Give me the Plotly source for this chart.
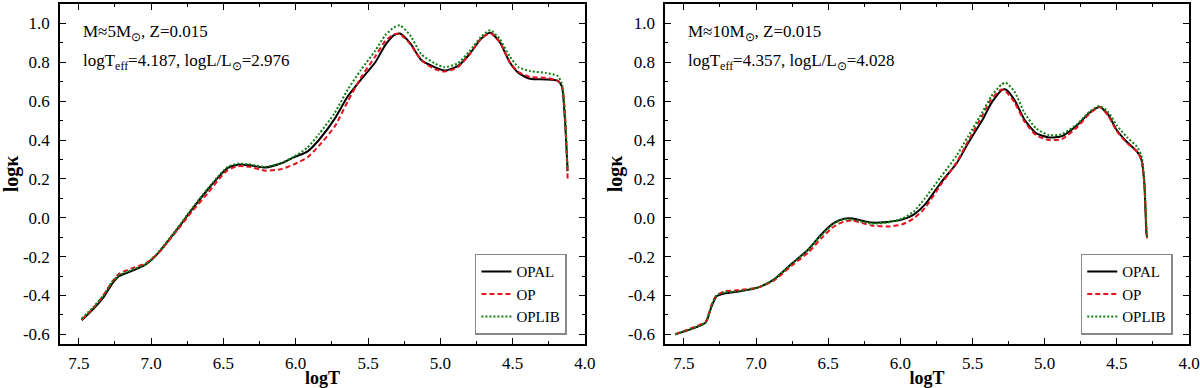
import plotly.graph_objects as go

# left panel: M~5 Msun
logT_5 = [7.48, 7.40, 7.33, 7.27, 7.22, 7.14, 7.04, 6.96, 6.82, 6.72, 6.61, 6.53, 6.47, 6.40, 6.32,
          6.21, 6.10, 6.01, 5.92, 5.84, 5.73, 5.64, 5.55, 5.45, 5.38, 5.32, 5.28, 5.21, 5.13, 5.04,
          4.97, 4.88, 4.80, 4.72, 4.655, 4.59, 4.52, 4.46, 4.38, 4.27, 4.19, 4.16, 4.14, 4.12]
opal_5 = [-0.528, -0.47, -0.41, -0.34, -0.30, -0.276, -0.242, -0.19, -0.06, 0.04, 0.144, 0.213, 0.256, 0.273, 0.270,
          0.258, 0.28, 0.312, 0.34, 0.40, 0.51, 0.625, 0.71, 0.80, 0.89, 0.94, 0.948, 0.90, 0.81, 0.775,
          0.758, 0.78, 0.84, 0.92, 0.952, 0.905, 0.80, 0.745, 0.715, 0.712, 0.705, 0.676, 0.52, 0.24]
op_5 = [-0.525, -0.465, -0.40, -0.33, -0.288, -0.262, -0.235, -0.19, -0.065, 0.03, 0.125, 0.20, 0.245, 0.265, 0.262,
        0.242, 0.25, 0.275, 0.31, 0.37, 0.47, 0.60, 0.72, 0.83, 0.91, 0.945, 0.945, 0.895, 0.81, 0.765,
        0.752, 0.775, 0.84, 0.92, 0.95, 0.905, 0.80, 0.75, 0.725, 0.72, 0.705, 0.68, 0.55, 0.20]
oplib_5 = [-0.52, -0.46, -0.40, -0.33, -0.295, -0.27, -0.24, -0.185, -0.055, 0.045, 0.148, 0.218, 0.262, 0.278, 0.275,
           0.262, 0.282, 0.315, 0.36, 0.43, 0.54, 0.66, 0.76, 0.86, 0.94, 0.98, 0.99, 0.94, 0.84, 0.795,
           0.775, 0.795, 0.855, 0.93, 0.965, 0.92, 0.83, 0.775, 0.755, 0.745, 0.73, 0.69, 0.55, 0.25]

# right panel: M~10 Msun
logT_10 = [7.56, 7.46, 7.35, 7.31, 7.275, 7.22, 7.12, 6.99, 6.88, 6.75, 6.64, 6.54, 6.46, 6.39, 6.33,
           6.20, 6.09, 5.99, 5.91, 5.83, 5.72, 5.61, 5.53, 5.43, 5.37, 5.30, 5.27, 5.21, 5.14, 5.06,
           4.97, 4.88, 4.77, 4.69, 4.62, 4.56, 4.50, 4.43, 4.36, 4.33, 4.31, 4.295, 4.29]
opal_10 = [-0.60, -0.576, -0.54, -0.46, -0.405, -0.39, -0.38, -0.36, -0.32, -0.235, -0.165, -0.08, -0.027, -0.005, -0.004,
           -0.025, -0.022, -0.01, 0.015, 0.067, 0.18, 0.28, 0.385, 0.505, 0.59, 0.655, 0.66, 0.607, 0.505, 0.435,
           0.413, 0.42, 0.48, 0.54, 0.57, 0.53, 0.45, 0.39, 0.34, 0.30, 0.18, -0.08, -0.105]
op_10 = [-0.60, -0.572, -0.535, -0.45, -0.40, -0.38, -0.372, -0.36, -0.325, -0.245, -0.18, -0.10, -0.045, -0.02, -0.015,
         -0.04, -0.045, -0.035, -0.005, 0.05, 0.17, 0.285, 0.395, 0.53, 0.61, 0.66, 0.65, 0.595, 0.495, 0.425,
         0.40, 0.405, 0.47, 0.535, 0.57, 0.525, 0.445, 0.385, 0.34, 0.30, 0.18, -0.06, -0.11]
oplib_10 = [-0.60, -0.574, -0.54, -0.455, -0.40, -0.385, -0.378, -0.36, -0.32, -0.235, -0.165, -0.085, -0.03, -0.008, -0.01,
            -0.03, -0.025, -0.005, 0.03, 0.10, 0.21, 0.32, 0.42, 0.545, 0.625, 0.685, 0.695, 0.65, 0.54, 0.46,
            0.425, 0.43, 0.485, 0.545, 0.575, 0.545, 0.475, 0.415, 0.365, 0.32, 0.20, -0.05, -0.10]

names = ["OPAL", "OP", "OPLIB"]
y_ticks = [-0.6, -0.4, -0.2, 0.0, 0.2, 0.4, 0.6, 0.8, 1.0]
y_labels = ["-0.6", "-0.4", "-0.2", "0.0", "0.2", "0.4", "0.6", "0.8", "1.0"]
x_ticks = [7.5, 7.0, 6.5, 6.0, 5.5, 5.0, 4.5, 4.0]
x_labels = ["7.5", "7.0", "6.5", "6.0", "5.5", "5.0", "4.5", "4.0"]

styles = [dict(color="black", width=2, dash="solid"),
          dict(color="#e8101e", width=2, dash="5px,3px"),
          dict(color="#108010", width=2, dash="2px,2px")]

FONT = "Liberation Serif"

fig = go.Figure()
panels = [(logT_5, [opal_5, op_5, oplib_5], "x", "y", "legend"),
          (logT_10, [opal_10, op_10, oplib_10], "x2", "y2", "legend2")]
for xs, series, xa, ya, leg in panels:
    for name, ys, st in zip(names, series, styles):
        fig.add_trace(go.Scatter(x=xs, y=ys, mode="lines", name=name, line=dict(**st, shape="spline", smoothing=0.6),
                                 xaxis=xa, yaxis=ya, legend=leg))

axis_common = dict(showline=True, linecolor="black", linewidth=1.5, mirror="allticks", ticks="inside",
                   ticklen=6, tickwidth=1.2, tickcolor="black", showgrid=False, zeroline=False, automargin=False,
                   tickfont=dict(family=FONT, size=17, color="black"))

xa = dict(axis_common, range=[7.63, 4.0], tickvals=x_ticks, ticktext=x_labels, ticklabelstandoff=3,
          minor=dict(dtick=0.25, tick0=4.0, ticks="inside", ticklen=3, tickcolor="black"),
          title=dict(text="<b>logT</b>", font=dict(family=FONT, size=18, color="black"), standoff=0))
ya = dict(axis_common, range=[-0.65, 1.1], tickvals=y_ticks, ticktext=y_labels, ticklabelstandoff=5,
          minor=dict(dtick=0.1, tick0=0, ticks="inside", ticklen=3, tickcolor="black"),
          title=dict(text="<b>logκ</b>", font=dict(family=FONT, size=20, color="black"), standoff=0))

leg_common = dict(xanchor="right", yanchor="bottom", bordercolor="#888888", borderwidth=1.5,
                  font=dict(family=FONT, size=15, color="black"), bgcolor="white", tracegroupgap=0)

fig.update_layout(
    width=1200, height=388,
    margin=dict(l=60, r=11, t=4, b=44),
    plot_bgcolor="white", paper_bgcolor="white",
    xaxis=dict(xa, domain=[0, 0.465], anchor="y"),
    yaxis=dict(ya, domain=[0, 1], anchor="x"),
    xaxis2=dict(xa, domain=[0.536, 1.0], anchor="y2"),
    yaxis2=dict(ya, domain=[0, 1], anchor="x2"),
    legend=dict(leg_common, x=0.449, y=0.027),
    legend2=dict(leg_common, x=0.9856, y=0.027),
)

ann_font = dict(family=FONT, size=17, color="black")
notes = [("x domain", "y domain", "M≈5M<sub>⊙</sub>, Z=0.015", "logT<sub>eff</sub>=4.187, logL/L<sub>⊙</sub>=2.976"),
         ("x2 domain", "y2 domain", "M≈10M<sub>⊙</sub>, Z=0.015", "logT<sub>eff</sub>=4.357, logL/L<sub>⊙</sub>=4.028")]
for xr, yr, l1, l2 in notes:
    fig.add_annotation(xref=xr, yref=yr, x=0.04, y=0.915, text=l1, showarrow=False,
                       xanchor="left", yanchor="middle", font=ann_font)
    fig.add_annotation(xref=xr, yref=yr, x=0.04, y=0.83, text=l2, showarrow=False,
                       xanchor="left", yanchor="middle", font=ann_font)

# page body has a default 8px margin; drop it so the figure fills the window
fig.write_html("out.html", config={"displayModeBar": False},
               post_script="document.body.style.margin='0';")
